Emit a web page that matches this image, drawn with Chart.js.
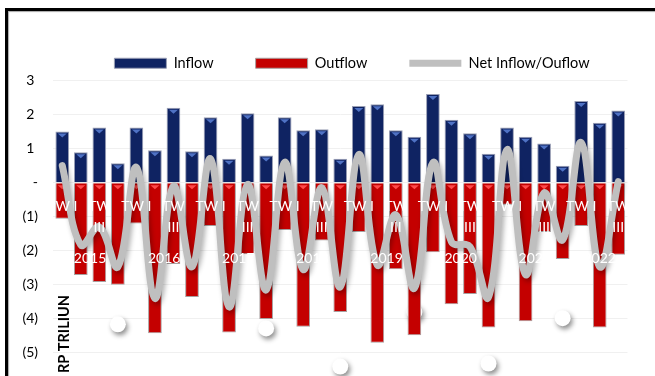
<!DOCTYPE html>
<html>
<head>
<meta charset="utf-8">
<script src="https://cdn.jsdelivr.net/npm/chart.js@4.4.0/dist/chart.umd.min.js"></script>
<style>
  html, body { margin: 0; padding: 0; width: 655px; height: 376px; overflow: hidden; background: #fff; }
  #wrap { position: absolute; left: 0; top: 0; }
  .frame { position: absolute; left: 5px; top: 8px; width: 800px; height: 500px;
    border-top: 3px solid #000; border-left: 3px solid #000;
    box-shadow: inset 1px 1px 1px rgba(0,0,0,0.35); pointer-events: none; }
</style>
</head>
<body>
<div id="wrap"><canvas id="flow-chart" width="704" height="400"></canvas></div>
<div class="frame"></div>
<script>
const quarters = [
  "TW I", "TW II", "TW III", "TW IV",
  "TW I", "TW II", "TW III", "TW IV",
  "TW I", "TW II", "TW III", "TW IV",
  "TW I", "TW II", "TW III", "TW IV",
  "TW I", "TW II", "TW III", "TW IV",
  "TW I", "TW II", "TW III", "TW IV",
  "TW I", "TW II", "TW III", "TW IV",
  "TW I", "TW II", "TW III"
];
const years = ["2015", "2016", "2017", "2018", "2019", "2020", "2021", "2022"];

const inflow = [1.50, 0.89, 1.62, 0.57, 1.62, 0.95, 2.20, 0.92, 1.92, 0.70, 2.04, 0.80, 1.92, 1.54, 1.57,
  0.70, 2.25, 2.30, 1.54, 1.35, 2.60, 1.85, 1.45, 0.85, 1.62, 1.35, 1.15, 0.50, 2.40, 1.76, 2.12];
const outflow = [-1.06, -2.71, -2.92, -3.00, -1.20, -4.42, -2.39, -3.36, -1.27, -4.40, -2.10, -4.00, -1.39, -4.23, -1.70,
  -3.80, -1.45, -4.70, -2.54, -4.48, -2.04, -3.57, -3.27, -4.25, -0.65, -4.07, -1.45, -2.24, -1.27, -4.25, -2.12];
const netFlow = [0.50, -1.83, -1.30, -2.47, 0.45, -3.40, -0.10, -2.47, 0.70, -3.65, -0.05, -3.15, 0.60, -2.55, -0.15,
  -3.06, 0.83, -2.42, -0.94, -3.10, 0.59, -1.74, -1.88, -3.36, 0.97, -2.70, -0.30, -1.68, 1.18, -2.47, 0.03];
// stray white markers that sit under the bars in the original
const markers = [null, null, null, -4.16, null, null, null, null, null, null, null, -4.28, null, null, null,
  -5.40, null, null, null, -3.80, null, null, null, -5.31, null, null, null, -3.98, null, null, null];

// centre of every year group on the category index scale
const yearCenters = years.map((y, i) => {
  let start = i * 4;
  let end = Math.min(start + 3, quarters.length - 1);
  return (start + end) / 2;
});

Chart.defaults.font.family = "Lato";
Chart.defaults.font.size = 14;
Chart.defaults.color = "#000";

const shadows = {
  id: "shadows",
  beforeDatasetDraw(chart, args) {
    let ds = chart.data.datasets[args.index];
    if (!ds.shadow) return;
    let ctx = chart.ctx;
    ctx.save();
    ctx.shadowColor = ds.shadow;
    ctx.shadowBlur = 5;
    ctx.shadowOffsetX = 2;
    ctx.shadowOffsetY = 3;
  },
  afterDatasetDraw(chart, args) {
    let ds = chart.data.datasets[args.index];
    if (ds.shadow) chart.ctx.restore();
    if (!ds.bevel) return;
    let ctx = chart.ctx;
    ctx.save();
    ctx.fillStyle = ds.bevel;
    chart.getDatasetMeta(args.index).data.forEach(el => {
      let top = Math.min(el.y, el.base);
      ctx.beginPath();
      ctx.moveTo(el.x - 4.5, top + 2);
      ctx.lineTo(el.x + 4.5, top + 2);
      ctx.lineTo(el.x, top + 6);
      ctx.closePath();
      ctx.fill();
    });
    ctx.restore();
  }
};

const yTitle = {
  id: "yTitle",
  afterDraw(chart) {
    let ctx = chart.ctx;
    ctx.save();
    ctx.translate(69, 373);
    ctx.rotate(-Math.PI / 2);
    ctx.font = "bold 14.5px Lato";
    ctx.fillStyle = "#000";
    ctx.textAlign = "left";
    ctx.textBaseline = "alphabetic";
    ctx.fillText("RP TRILIUN", 0, 0);
    ctx.restore();
  }
};

const ctx = document.getElementById("flow-chart");
new Chart(ctx, {
  data: {
    labels: quarters,
    datasets: [
      {
        type: "bar", label: "Inflow", data: inflow, order: 1,
        backgroundColor: "#0f2362", borderColor: "#9a9fb5", borderWidth: 1,
        barPercentage: 0.74, categoryPercentage: 1, pointStyle: "rect", bevel: "#4f72c4"
      },
      {
        type: "bar", label: "Outflow", data: outflow, order: 1,
        backgroundColor: "#c40000", borderColor: "#a8a0a0", borderWidth: 1,
        barPercentage: 0.74, categoryPercentage: 1, pointStyle: "rect", bevel: "#ff4a4a"
      },
      {
        type: "line", label: "Net Inflow/Ouflow", data: netFlow, order: 0,
        borderColor: "#bfbfbf", backgroundColor: "#bfbfbf", borderWidth: 7, tension: 0.4,
        pointRadius: 0, borderCapStyle: "round", pointStyle: "line", fill: false,
        shadow: "rgba(0,0,0,0.3)"
      },
      {
        type: "line", label: "markers", data: markers, order: 2, showLine: false,
        pointRadius: 8, pointBackgroundColor: "#fff", pointBorderWidth: 0,
        shadow: "rgba(0,0,0,0.45)"
      }
    ]
  },
  options: {
    responsive: false,
    animation: false,
    layout: { padding: { top: 14, bottom: 13, left: 0, right: 0 } },
    plugins: {
      legend: {
        position: "top",
        maxHeight: 68,
        labels: {
          usePointStyle: true, pointStyleWidth: 52, boxHeight: 10, padding: 42,
          font: { size: 14.5 },
          filter: item => item.datasetIndex < 3,
          sort: (a, b) => a.datasetIndex - b.datasetIndex
        }
      },
      tooltip: { enabled: false }
    },
    scales: {
      x: {
        stacked: true,
        position: { y: 0 },
        grid: { display: false },
        border: { display: false },
        afterFit: s => { s.height = 0; },
        ticks: {
          z: 1,
          color: "#fff", autoSkip: false, maxRotation: 0, padding: 5.5,
          font: { size: 14, lineHeight: 1.5 },
          callback: (v, i) => {
            if (i % 2) return "";
            let q = quarters[i];
            return q.length > 4 ? q.split(" ") : q;
          }
        }
      },
      x2: {
        type: "linear",
        position: { y: 0 },
        min: -0.5,
        max: quarters.length - 0.5,
        grid: { display: false },
        border: { display: false },
        afterFit: s => { s.height = 0; },
        afterBuildTicks: s => { s.ticks = yearCenters.map(v => ({ value: v })); },
        ticks: {
          z: 1,
          color: "#fff", autoSkip: false, maxRotation: 0, padding: 57,
          font: { size: 14, lineHeight: 1.5 },
          callback: (v, i) => years[i]
        }
      },
      y: {
        min: -6,
        max: 3,
        afterFit: s => { s.width = 53; s.paddingTop = 0; s.paddingBottom = 0; },
        grid: { color: "#f0f0f0", drawTicks: false },
        border: { display: false },
        ticks: {
          stepSize: 1, padding: 15,
          callback: v => v === 0 ? "-" : v < 0 ? "(" + (-v) + ")" : v + " "
        }
      },
      y2: {
        position: "right",
        grid: { display: false },
        border: { display: false },
        ticks: { display: false },
        afterFit: s => { s.width = 76.5; s.paddingTop = 0; s.paddingBottom = 0; }
      }
    }
  },
  plugins: [shadows, yTitle]
});
</script>
</body>
</html>
